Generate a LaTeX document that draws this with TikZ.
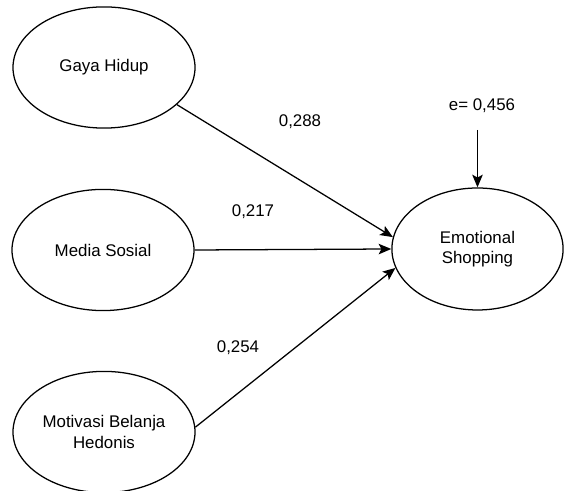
\documentclass[tikz,border=0pt]{standalone}
\usepackage{fontspec}
\setmainfont{Liberation Sans}
\usepackage{tikz}
\usetikzlibrary{shapes}
\usetikzlibrary{arrows.meta}
\tikzstyle{line} = [draw, line width=0.9pt, -{Stealth[length=9pt,width=7.5pt,inset=2pt]}]
\tikzstyle{latent} = [draw, ellipse, line width=0.9pt, inner sep=0pt, minimum width=4.55cm, minimum height=3.03cm, align=center, font=\fontsize{12}{14.5}\selectfont]
\tikzstyle{coef} = [font=\fontsize{12}{14.5}\selectfont]

\begin{document}
\begin{tikzpicture}
\useasboundingbox (0,0) rectangle (14.1,12.275);
\node[latent] (gaya) at (2.6,10.5875) {Gaya Hidup};
\node[latent] (media) at (2.575,6.025) {Media Sosial};
\node[latent] (motivasi) at (2.6,1.475) {Motivasi Belanja\\Hedonis};
\node[latent, minimum width=4.28cm, minimum height=3.05cm] (emosi) at (11.9375,6.05) {Emotional\\Shopping};
\node[coef] (err) at (12.05,9.625) {e= 0,456};
\coordinate (errtop) at (11.9375,9.025);
\path[line] (gaya.-27) -- (emosi.172);
\path[line] (media.east) -- (emosi.west);
\path[line] (motivasi.3) -- (emosi.193.5);
\path[line] (errtop) -- (emosi.north);
\node[coef] (b1) at (7.5,9.225) {0,288};
\node[coef] (b2) at (6.325,6.975) {0,217};
\node[coef] (b3) at (5.95,3.575) {0,254};
\end{tikzpicture}
\end{document}
